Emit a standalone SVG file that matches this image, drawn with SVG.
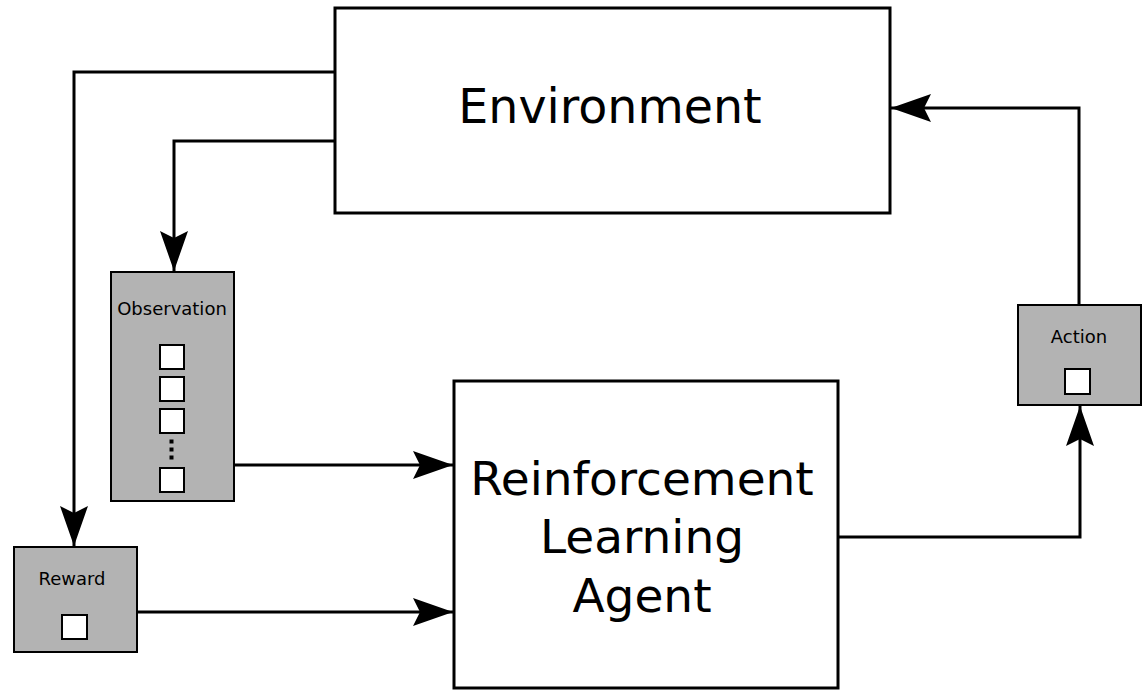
<svg xmlns="http://www.w3.org/2000/svg" width="1145" height="691" viewBox="0 0 1145 691">
<defs>
<style>
.box{fill:#fff;stroke:#000;stroke-width:3}
.gbox{fill:#b3b3b3;stroke:#000;stroke-width:2}
.sq{fill:#fff;stroke:#000;stroke-width:2}
.big{font-family:"DejaVu Sans",sans-serif;font-size:47px;text-anchor:middle;fill:#000}
.small{font-family:"DejaVu Sans",sans-serif;font-size:18px;text-anchor:middle;fill:#000}
.conn{fill:none;stroke:#000;stroke-width:3}
</style>
<marker id="arr" markerUnits="userSpaceOnUse" viewBox="0 0 40 28" refX="40" refY="14" markerWidth="40" markerHeight="28" orient="auto">
<path d="M0,0 L40,14 L0,28 L7,14 Z" fill="#000"/>
</marker>
</defs>
<rect width="1145" height="691" fill="#fff"/>
<g id="environment">
<rect class="box" x="335" y="8" width="555" height="205"/>
<text class="big" x="610" y="123" style="font-size:47.5px">Environment</text>
</g>
<g id="agent">
<rect class="box" x="454" y="381" width="384" height="307"/>
<text class="big" x="642" y="495">Reinforcement</text>
<text class="big" x="642" y="553">Learning</text>
<text class="big" x="642" y="612">Agent</text>
</g>
<g id="observation">
<rect class="gbox" x="111" y="272" width="123" height="229"/>
<text class="small" x="172" y="315">Observation</text>
<rect class="sq" x="160" y="345" width="24" height="24"/>
<rect class="sq" x="160" y="377" width="24" height="24"/>
<rect class="sq" x="160" y="409" width="24" height="24"/>
<rect x="169.5" y="439.5" width="4" height="4" fill="#000"/>
<rect x="169.5" y="447.5" width="4" height="4" fill="#000"/>
<rect x="169.5" y="455.5" width="4" height="4" fill="#000"/>
<rect class="sq" x="160" y="468" width="24" height="24"/>
</g>
<g id="reward">
<rect class="gbox" x="14" y="547" width="123" height="105"/>
<text class="small" x="72" y="585">Reward</text>
<rect class="sq" x="62" y="615" width="25" height="24"/>
</g>
<g id="action">
<rect class="gbox" x="1018" y="305" width="123" height="100"/>
<text class="small" x="1079" y="343">Action</text>
<rect class="sq" x="1065" y="369" width="25" height="25"/>
</g>
<g id="connectors">
<polyline class="conn" points="335,72 74,72 74,546" marker-end="url(#arr)"/>
<polyline class="conn" points="335,141 174,141 174,271" marker-end="url(#arr)"/>
<polyline class="conn" points="234,465 453,465" marker-end="url(#arr)"/>
<polyline class="conn" points="137,612 453,612" marker-end="url(#arr)"/>
<polyline class="conn" points="838,537 1080,537 1080,406" marker-end="url(#arr)"/>
<polyline class="conn" points="1079,305 1079,108 891,108" marker-end="url(#arr)"/>
</g>
</svg>
